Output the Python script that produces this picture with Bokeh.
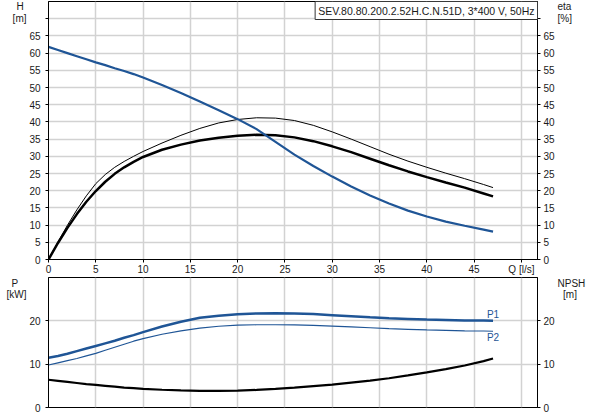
from bokeh.plotting import figure
from bokeh.models import Range1d, LinearAxis, FixedTicker, Label
from bokeh.layouts import column
from bokeh.embed import file_html
from bokeh.resources import INLINE

# ---- data ----
q = [0, 1, 2, 3, 4, 5, 6, 7, 8, 9, 10, 12, 14, 16, 18, 20, 22, 24, 26, 28,
     30, 32, 34, 36, 38, 40, 42, 44, 46, 47]
head = [61.8, 60.9, 60.0, 59.1, 58.2, 57.3, 56.5, 55.6, 54.8, 53.9, 52.9, 50.7, 48.4, 45.9, 43.4, 40.8, 37.9, 34.2, 30.5, 27.2,
        24.1, 21.2, 18.6, 16.3, 14.2, 12.5, 11.0, 9.8, 8.7, 8.1]
eta_thin = [0, 5.1, 9.95, 14.45, 18.5, 22.05, 24.7, 26.8, 28.5, 30.0, 31.4, 33.85, 36.1, 38.1, 39.7, 40.7, 41.2, 41.1, 40.4, 39.0,
            37.1, 35.0, 32.8, 30.6, 28.6, 26.8, 25.1, 23.5, 21.8, 20.9]
eta_thick = [0, 4.8, 9.2, 13.2, 16.8, 19.9, 22.6, 24.9, 26.8, 28.4, 29.8, 31.9, 33.4, 34.6, 35.4, 35.95, 36.25, 36.1, 35.5, 34.4,
             32.9, 31.2, 29.3, 27.4, 25.6, 23.95, 22.4, 20.9, 19.2, 18.35]
p1 = [11.5, 11.9, 12.4, 13.0, 13.6, 14.2, 14.8, 15.4, 16.1, 16.7, 17.4, 18.7, 19.8, 20.7, 21.2, 21.5, 21.7, 21.75, 21.7, 21.55,
      21.3, 21.05, 20.8, 20.6, 20.45, 20.3, 20.2, 20.1, 20.05, 20.0]
p2 = [9.8, 10.3, 10.8, 11.3, 11.9, 12.5, 13.2, 13.9, 14.6, 15.3, 15.9, 16.9, 17.7, 18.3, 18.75, 19.0, 19.1, 19.1, 19.05, 18.95,
      18.8, 18.6, 18.4, 18.2, 18.05, 17.9, 17.8, 17.7, 17.65, 17.6]
npsh = [6.4, 6.15, 5.9, 5.65, 5.4, 5.2, 5.0, 4.8, 4.6, 4.45, 4.3, 4.1, 3.95, 3.85, 3.85, 3.9, 4.05, 4.3, 4.6, 4.95,
        5.3, 5.75, 6.2, 6.75, 7.4, 8.1, 8.85, 9.7, 10.7, 11.3]

x_ticks = [0, 5, 10, 15, 20, 25, 30, 35, 40, 45, 50]
top_ticks = [0, 5, 10, 15, 20, 25, 30, 35, 40, 45, 50, 55, 60, 65, 70]
bot_ticks = [0, 10, 20]
title_text = "SEV.80.80.200.2.52H.C.N.51D, 3*400 V, 50Hz"
NB = "\u00a0"
h_units = ["H" + NB, "[m]"]
eta_units = ["eta", "[%]"]
p_units = ["P" + NB * 3, "[kW]"]
npsh_units = ["NPSH", NB * 2 + "[m]"]

FONT = "Liberation Sans"
FS = "10px"
BLUE = "#1f5596"
GRID = "#d2d2d2"
TXT = "#1a1a1a"

W = 593
BL, BR = 48, 56

xr = Range1d(0, 51.7)


def style_axis(ax, ticks, overrides=None, standoff=3):
    ax.ticker = FixedTicker(ticks=ticks)
    ax.axis_line_color = "black"
    ax.axis_line_width = 1
    ax.major_tick_out = 3
    ax.major_tick_in = 0
    ax.minor_tick_line_color = None
    ax.major_tick_line_color = "black"
    ax.major_label_text_font = FONT
    ax.major_label_text_font_size = FS
    ax.major_label_text_color = TXT
    ax.major_label_standoff = standoff
    if overrides:
        ax.major_label_overrides = overrides


def unit_axis(p, side, ticks, labels):
    ax = LinearAxis(ticker=FixedTicker(ticks=ticks),
                    major_label_overrides=dict(zip(ticks, labels)),
                    axis_line_color=None, major_tick_line_color=None, minor_tick_line_color=None,
                    major_tick_out=0, major_tick_in=0, major_label_standoff=0,
                    major_label_text_font=FONT, major_label_text_font_size=FS,
                    major_label_text_color=TXT)
    p.add_layout(ax, side)


# ---------------- top panel ----------------
pt = figure(width=W, height=277, x_range=xr, y_range=Range1d(0, 75),
            output_backend="svg", toolbar_location=None,
            min_border_left=BL, min_border_right=BR, min_border_top=1, min_border_bottom=18)
pt.extra_y_ranges = {"eta": Range1d(0, 75)}
pt.add_layout(LinearAxis(y_range_name="eta"), "right")
pt.outline_line_color = "black"

style_axis(pt.xaxis[0], x_ticks, {50: "Q [l/s]"}, standoff=1)
style_axis(pt.yaxis[0], top_ticks, {70: ""}, standoff=5)
style_axis(pt.yaxis[1], top_ticks, {70: ""}, standoff=3)
pt.xgrid.ticker = FixedTicker(ticks=x_ticks)
pt.ygrid.ticker = FixedTicker(ticks=top_ticks)
pt.grid.grid_line_color = GRID
pt.grid.grid_line_width = 1.5

pt.line(q, eta_thin, line_color="black", line_width=1)
pt.line(q, eta_thick, line_color="black", line_width=2.5)
pt.line(q, head, line_color=BLUE, line_width=2.2)

unit_axis(pt, "left", [73.5, 70], h_units)
unit_axis(pt, "right", [73.5, 70], eta_units)

pt.add_layout(Label(x=51.7, y=75, text=title_text, text_font=FONT, text_font_size="10.5px",
                    text_color=TXT, text_align="right", text_baseline="top",
                    background_fill_color="white", border_line_color="#333333",
                    border_line_width=1, padding=3))

# ---------------- bottom panel ----------------
pb = figure(width=W, height=138, x_range=xr, y_range=Range1d(0, 30),
            output_backend="svg", toolbar_location=None,
            min_border_left=BL, min_border_right=BR, min_border_top=0, min_border_bottom=8)
pb.extra_y_ranges = {"npsh": Range1d(0, 30)}
pb.add_layout(LinearAxis(y_range_name="npsh"), "right")
pb.outline_line_color = "black"
pb.xaxis.visible = False
style_axis(pb.yaxis[0], bot_ticks, standoff=5)
style_axis(pb.yaxis[1], bot_ticks, standoff=3)
pb.xgrid.ticker = FixedTicker(ticks=x_ticks)
pb.ygrid.ticker = FixedTicker(ticks=bot_ticks)
pb.grid.grid_line_color = GRID
pb.grid.grid_line_width = 1.5

pb.line(q, npsh, line_color="black", line_width=2.2, y_range_name="npsh")
pb.line(q, p2, line_color=BLUE, line_width=1.2)
pb.line(q, p1, line_color=BLUE, line_width=2.5)

pb.add_layout(Label(x=47, y=21.4, text="P1", text_font=FONT, text_font_size=FS,
                    text_color=BLUE, text_align="center", text_baseline="middle"))
pb.add_layout(Label(x=47, y=16.1, text="P2", text_font=FONT, text_font_size=FS,
                    text_color=BLUE, text_align="center", text_baseline="middle"))

unit_axis(pb, "left", [28.85, 26.1], p_units)
unit_axis(pb, "right", [28.85, 26.1], npsh_units)

layout = column(pt, pb, spacing=0)
open("out.html", "w").write(file_html(layout, INLINE))
